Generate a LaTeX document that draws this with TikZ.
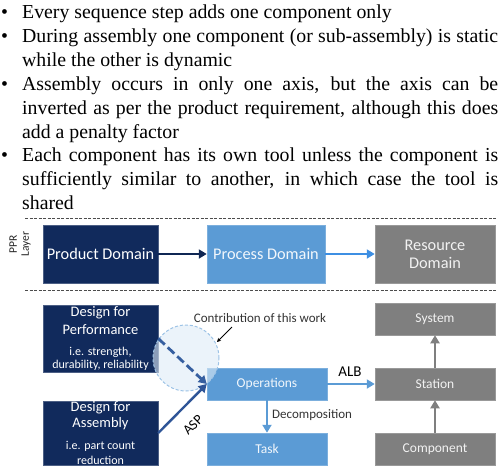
\documentclass[tikz,border=0pt]{standalone}
\usepackage{fontspec}
\setmainfont{Liberation Serif}
\newfontfamily\calib{Carlito}
\usetikzlibrary{arrows.meta}
\definecolor{navy}{HTML}{112A5C}
\definecolor{lblue}{HTML}{5B9BD5}
\definecolor{gbox}{HTML}{7F7F7F}
\definecolor{brblue}{HTML}{3D8FE3}
\definecolor{asp}{HTML}{2F5597}
\definecolor{circfill}{HTML}{DDEBF7}
\definecolor{circline}{HTML}{9DC3E6}
\begin{document}
\begin{tikzpicture}[x=1pt,y=-1pt,
  txt/.style={anchor=base west, inner sep=0pt, font=\fontsize{19.8}{24}\selectfont},
  navybox/.style={fill=navy, draw=navy!75!white, line width=0.5pt, text=white, inner sep=0pt},
  bluebox/.style={fill=lblue, draw=lblue!80!white, line width=0.5pt, text=white!92!lblue, inner sep=0pt},
  graybox/.style={fill=gbox, draw=gbox!80!white, line width=0.5pt, text=white!90!gbox, inner sep=0pt},
  boxfont/.style={font=\calib\fontsize{16.3}{18}\selectfont},
  smallfont/.style={font=\calib\fontsize{13.5}{16}\selectfont},
  wtxt/.style={inner sep=0pt, text=white},
  sep/.style={draw=black!70, line width=0.6pt, dash pattern=on 3pt off 1.5pt},
  arr/.style={line width=2.6pt, -{Triangle[length=8pt,width=9pt]}},
  lbl/.style={inner sep=0pt, font=\calib\fontsize{13}{15}\selectfont, text=black!80}
]
\useasboundingbox (0,0) rectangle (499,474);

% bullet text
\node[txt] (b1) at (1,18.5) {\textbullet};
\node[txt] (b2) at (1,42.4) {\textbullet};
\node[txt] (b3) at (1,90.2) {\textbullet};
\node[txt] (b4) at (1,161.9) {\textbullet};
\node[txt] (l1) at (22,18.5) {Every sequence step adds one component only};
\node[txt] (l2) at (22,42.4) {\makebox[476pt][s]{During assembly one component (or sub-assembly) is static}};
\node[txt] (l3) at (22,66.3) {while the other is dynamic};
\node[txt] (l4) at (22,90.2) {\makebox[476pt][s]{Assembly occurs in only one axis, but the axis can be}};
\node[txt] (l5) at (22,114.1) {\makebox[476pt][s]{inverted as per the product requirement, although this does}};
\node[txt] (l6) at (22,138.0) {add a penalty factor};
\node[txt] (l7) at (22,161.9) {\makebox[476pt][s]{Each component has its own tool unless the component is}};
\node[txt] (l8) at (22,185.8) {\makebox[476pt][s]{sufficiently similar to another, in which case the tool is}};
\node[txt] (l9) at (22,209.7) {shared};

% separators
\coordinate (s1a) at (25,218); \coordinate (s1b) at (496,218);
\coordinate (s2a) at (25,290); \coordinate (s2b) at (496,290);
\draw[sep] (s1a) -- (s1b);
\draw[sep] (s2a) -- (s2b);

% PPR layer
\node[rotate=90, align=center, inner sep=0pt, font=\calib\fontsize{11.5}{12}\selectfont, text=black!85] (ppr) at (20,244) {PPR\\Layer};
\node[navybox, boxfont, minimum width=115pt, minimum height=58pt] (prod) at (100.5,254) {Product Domain};
\node[bluebox, boxfont, minimum width=118pt, minimum height=58pt] (proc) at (266,254) {Process Domain};
\node[graybox, minimum width=120pt, minimum height=58pt] (res) at (435,254) {};
\node[wtxt, boxfont, text=white!90!gbox] (res1) at (435,245) {Resource};
\node[wtxt, boxfont, text=white!90!gbox] (res2) at (435,263) {Domain};
\draw[arr, draw=navy!90!black] (prod) -- (proc);
\draw[arr, draw=brblue] (proc) -- (res);

% lower section boxes
\node[navybox, minimum width=115pt, minimum height=67pt] (perf) at (100.5,338.5) {};
\node[wtxt, font=\calib\fontsize{14.5}{17}\selectfont] (perf1) at (100.5,313) {Design for};
\node[wtxt, font=\calib\fontsize{14.5}{17}\selectfont] (perf2) at (100.5,330) {Performance};
\node[wtxt, font=\calib\fontsize{12}{13}\selectfont] (perf3) at (100.5,352) {i.e. strength,};
\node[wtxt, font=\calib\fontsize{12}{13}\selectfont] (perf4) at (100.5,365) {durability, reliability};

\node[navybox, minimum width=115pt, minimum height=64pt] (asm) at (100.5,433) {};
\node[wtxt, font=\calib\fontsize{14.5}{17}\selectfont] (asm1) at (100.5,408) {Design for};
\node[wtxt, font=\calib\fontsize{14.5}{17}\selectfont] (asm2) at (100.5,424) {Assembly};
\node[wtxt, font=\calib\fontsize{12}{13}\selectfont] (asm3) at (100.5,446) {i.e. part count};
\node[wtxt, font=\calib\fontsize{12}{13}\selectfont] (asm4) at (100.5,460) {reduction};

\node[bluebox, smallfont, minimum width=120pt, minimum height=32pt] (ops) at (267,384) {Operations};
\node[bluebox, smallfont, minimum width=120pt, minimum height=32pt] (task) at (267,449) {Task};
\node[graybox, smallfont, minimum width=120pt, minimum height=32pt] (sys) at (435,319) {System};
\node[graybox, smallfont, minimum width=120pt, minimum height=32pt] (sta) at (435,384) {Station};
\node[graybox, smallfont, minimum width=120pt, minimum height=32pt] (comp) at (435,449) {Component};

% contribution circle
\fill[circfill, opacity=0.6] (186,358) circle[radius=33pt];
\draw[circline, line width=1pt, dash pattern=on 3pt off 2pt] (186,358) circle[radius=33pt];

% connectors
\draw[arr, draw=asp, line width=2.4pt] (asm.east) -- (ops.west);
\draw[arr, draw=asp!85!lblue, line width=2.8pt, dash pattern=on 9pt off 4pt] (perf.east) -- (ops.west);
\draw[arr, draw=lblue] (ops) -- (sta);
\draw[arr, draw=lblue] (ops) -- (task);
\draw[arr, draw=gbox] (comp) -- (sta);
\draw[arr, draw=gbox] (sta) -- (sys);

% labels
\node[inner sep=0pt, rotate=45, font=\calib\fontsize{14}{16}\selectfont] (asplbl) at (193,425) {ASP};
\node[inner sep=0pt, font=\calib\fontsize{15}{17}\selectfont] (alb) at (350,372) {ALB};
\node[lbl, anchor=west] (dec) at (272,415) {Decomposition};
\node[lbl] (contrib) at (260,318) {Contribution of this work};
\coordinate (c1) at (232,327);
\coordinate (c2) at (217,342);
\draw[line width=0.8pt, -{Stealth[length=4pt,width=4pt]}] (c1) -- (c2);
\end{tikzpicture}
\end{document}
